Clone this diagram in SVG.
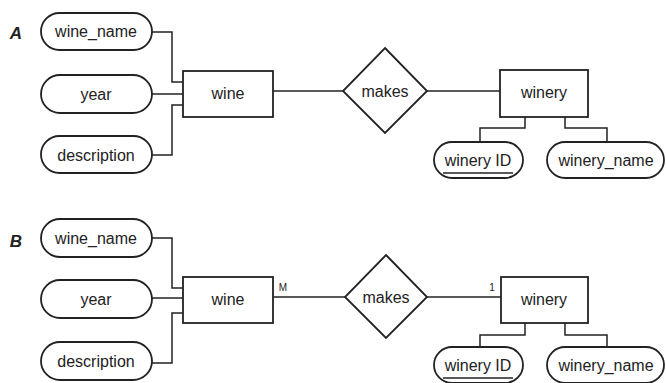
<svg xmlns="http://www.w3.org/2000/svg" width="666" height="383" viewBox="0 0 666 383">
<style>
.pill{fill:#fff;stroke:#222;stroke-width:1.8}
.box{fill:#fff;stroke:#222;stroke-width:1.8}
.dia{fill:#fff;stroke:#222;stroke-width:1.8}
.ln{fill:none;stroke:#222;stroke-width:1.5}
text{font-family:"Liberation Sans",Arial,sans-serif;font-size:16px;fill:#222;text-anchor:middle;dominant-baseline:central}
.lab{font-weight:bold;font-style:italic;font-size:17px}
.card{font-size:10px}
</style>
<rect width="666" height="383" fill="#fff"/>
<text class="lab" x="16" y="33">A</text>
<text class="lab" x="16" y="241">B</text>
<g id="connectors">
<path class="ln" d="M152,32H172V82H183"/>
<path class="ln" d="M152,94H183"/>
<path class="ln" d="M152,155H172V105H183"/>
<path class="ln" d="M273,91H343"/>
<path class="ln" d="M427,91H500"/>
<path class="ln" d="M525,117V128H480V142"/>
<path class="ln" d="M565,117V128H607V142"/>
<path class="ln" d="M152,238H172V288H183"/>
<path class="ln" d="M152,298H183"/>
<path class="ln" d="M152,363H172V313H183"/>
<path class="ln" d="M273,297H345"/>
<path class="ln" d="M427,297H501"/>
<path class="ln" d="M525,323V335H480V347"/>
<path class="ln" d="M565,323V335H607V347"/>
<text class="card" x="283" y="287">M</text>
<text class="card" x="492" y="287">1</text>
</g>
<g id="a_wine_name"><rect class="pill" x="41" y="13" width="111" height="37" rx="18.5"/><text x="96" y="31">wine_name</text></g>
<g id="a_year"><rect class="pill" x="41" y="75" width="111" height="38" rx="19"/><text x="96" y="94">year</text></g>
<g id="a_description"><rect class="pill" x="41" y="136" width="111" height="37" rx="18.5"/><text x="96" y="155">description</text></g>
<g id="a_wine"><rect class="box" x="183" y="71" width="90" height="46"/><text x="228" y="93">wine</text></g>
<g id="a_makes"><polygon class="dia" points="385,48 427,91 385,133 343,91"/><text x="385" y="91">makes</text></g>
<g id="a_winery"><rect class="box" x="500" y="70" width="88" height="47"/><text x="544" y="92">winery</text></g>
<g id="a_winery_id"><rect class="pill" x="434" y="142" width="89" height="36" rx="18"/><text x="478" y="160">winery ID</text><line class="ln" x1="443" y1="173" x2="513" y2="173"/></g>
<g id="a_winery_name"><rect class="pill" x="547" y="142" width="117" height="36" rx="18"/><text x="606" y="160">winery_name</text></g>
<g id="b_wine_name"><rect class="pill" x="41" y="219" width="111" height="38" rx="19"/><text x="96" y="238">wine_name</text></g>
<g id="b_year"><rect class="pill" x="41" y="280" width="111" height="38" rx="19"/><text x="96" y="299">year</text></g>
<g id="b_description"><rect class="pill" x="41" y="342" width="111" height="38" rx="19"/><text x="96" y="361">description</text></g>
<g id="b_wine"><rect class="box" x="183" y="277" width="90" height="46"/><text x="228" y="299">wine</text></g>
<g id="b_makes"><polygon class="dia" points="386,255 427,297 386,338 345,297"/><text x="386" y="297">makes</text></g>
<g id="b_winery"><rect class="box" x="501" y="277" width="87" height="46"/><text x="544" y="299">winery</text></g>
<g id="b_winery_id"><rect class="pill" x="434" y="347" width="89" height="36" rx="18"/><text x="478" y="365">winery ID</text><line class="ln" x1="443" y1="378" x2="513" y2="378"/></g>
<g id="b_winery_name"><rect class="pill" x="547" y="347" width="117" height="36" rx="18"/><text x="606" y="365">winery_name</text></g>
</svg>
